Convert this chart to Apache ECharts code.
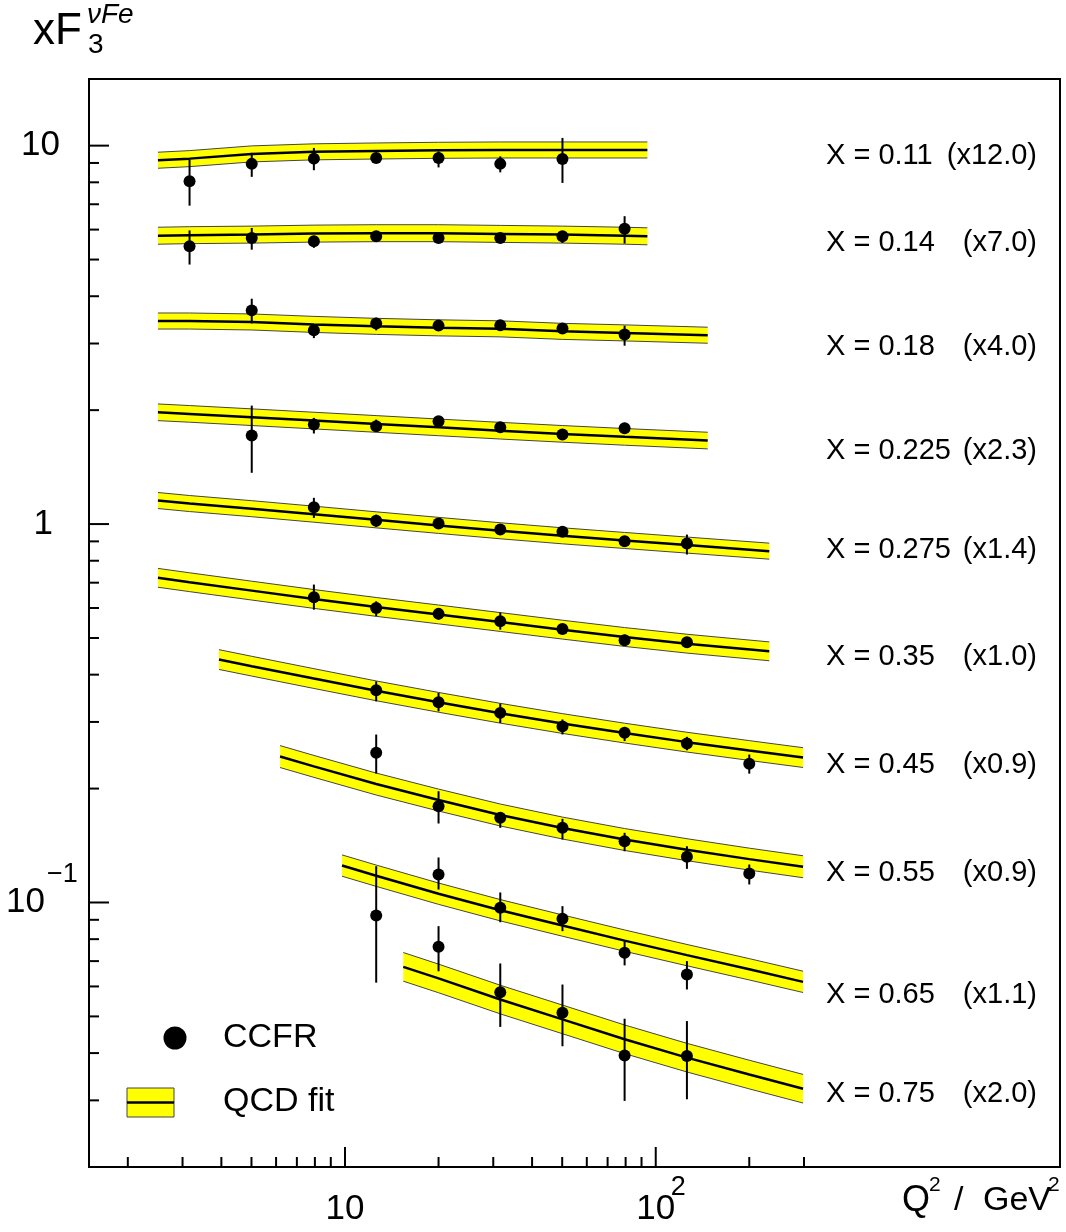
<!DOCTYPE html>
<html>
<head>
<meta charset="utf-8">
<script src="https://cdn.jsdelivr.net/npm/echarts@6/dist/echarts.min.js"></script>
<style>
html,body{margin:0;padding:0;background:#fff;}
#chart{width:1066px;height:1232px;}
</style>
</head>
<body>
<div id="chart"></div>
<script>
// ---------------- DATA (plotted, already multiplied by the bin scale factor) ----------------
const binX      = ['0.11', '0.14', '0.18', '0.225', '0.275', '0.35', '0.45', '0.55', '0.65', '0.75'];
const binScale  = ['12.0', '7.0', '4.0', '2.3', '1.4', '1.0', '0.9', '0.9', '1.1', '2.0'];

// CCFR points: Q2, xF3, lower / upper end of error bar
const q2_011 = [3.16, 5.01, 7.94, 12.6, 20.0, 31.6, 50.1];
const f3_011 = [8.05, 8.95, 9.24, 9.28, 9.28, 8.95, 9.22];
const lo_011 = [6.94, 8.27, 8.61, 9.02, 8.76, 8.50, 7.97];
const hi_011 = [9.18, 9.57, 9.86, 9.58, 9.66, 9.37, 10.48];

const q2_014 = [3.16, 5.01, 7.94, 12.6, 20.0, 31.6, 50.1, 79.4];
const f3_014 = [5.42, 5.70, 5.59, 5.76, 5.70, 5.70, 5.76, 6.03];
const lo_014 = [4.85, 5.31, 5.37, 5.59, 5.53, 5.53, 5.53, 5.51];
const hi_014 = [5.97, 6.06, 5.78, 5.94, 5.88, 5.88, 5.94, 6.51];

const q2_018 = [5.01, 7.94, 12.6, 20.0, 31.6, 50.1, 79.4];
const f3_018 = [3.67, 3.25, 3.39, 3.345, 3.35, 3.285, 3.17];
const lo_018 = [3.39, 3.10, 3.25, 3.25, 3.25, 3.20, 2.96];
const hi_018 = [3.94, 3.365, 3.51, 3.435, 3.435, 3.39, 3.345];

const q2_0225 = [5.01, 7.94, 12.6, 20.0, 31.6, 50.1, 79.4];
const f3_0225 = [1.713, 1.832, 1.813, 1.869, 1.802, 1.724, 1.791];
const lo_0225 = [1.366, 1.735, 1.759, 1.813, 1.748, 1.672, 1.735];
const hi_0225 = [2.056, 1.908, 1.888, 1.927, 1.858, 1.777, 1.851];

const q2_0275 = [7.94, 12.6, 20.0, 31.6, 50.1, 79.4, 126];
const f3_0275 = [1.108, 1.021, 1.003, 0.967, 0.954, 0.901, 0.888];
const lo_0275 = [1.038, 0.983, 0.971, 0.938, 0.929, 0.874, 0.831];
const hi_0275 = [1.173, 1.059, 1.032, 0.997, 0.977, 0.929, 0.938];

const q2_035 = [7.94, 12.6, 20.0, 31.6, 50.1, 79.4, 126];
const f3_035 = [0.641, 0.600, 0.579, 0.5535, 0.528, 0.493, 0.487];
const lo_035 = [0.594, 0.571, 0.559, 0.526, 0.5135, 0.4775, 0.471];
const hi_035 = [0.692, 0.625, 0.600, 0.584, 0.5425, 0.510, 0.500];

const q2_045 = [12.6, 20.0, 31.6, 50.1, 79.4, 126, 200];
const f3_045 = [0.364, 0.338, 0.317, 0.292, 0.281, 0.263, 0.2325];
const lo_045 = [0.340, 0.320, 0.298, 0.278, 0.267, 0.2525, 0.219];
const hi_045 = [0.384, 0.358, 0.3355, 0.3045, 0.291, 0.274, 0.246];

const q2_055 = [12.6, 20.0, 31.6, 50.1, 79.4, 126, 200];
const f3_055 = [0.2486, 0.1797, 0.1674, 0.1575, 0.1452, 0.1320, 0.1193];
const lo_055 = [0.2192, 0.1617, 0.1575, 0.1467, 0.1366, 0.1227, 0.1116];
const hi_055 = [0.2779, 0.1968, 0.1732, 0.1664, 0.1528, 0.1408, 0.1260];

const q2_065 = [12.6, 20.0, 31.6, 50.1, 79.4, 126];
const f3_065 = [0.0924, 0.1186, 0.0968, 0.0906, 0.0737, 0.0645];
const lo_065 = [0.0614, 0.1082, 0.0887, 0.0840, 0.0682, 0.0589];
const hi_065 = [0.1247, 0.1315, 0.1063, 0.0978, 0.0790, 0.0700];

const q2_075 = [20.0, 31.6, 50.1, 79.4, 126];
const f3_075 = [0.0764, 0.0579, 0.0511, 0.0394, 0.0393];
const lo_075 = [0.0658, 0.0469, 0.0417, 0.0299, 0.0302];
const hi_075 = [0.0866, 0.0690, 0.0607, 0.0493, 0.0486];

// QCD fit: central curve sampled in Q2
const fitQ2_011 = [2.5, 3.16, 5.01, 7.94, 12.6, 20, 31.6, 50.1, 94];
const fit_011   = [9.15, 9.24, 9.51, 9.63, 9.68, 9.72, 9.74, 9.74, 9.74];
const fitQ2_014 = [2.5, 3.16, 5.01, 7.94, 12.6, 20, 31.6, 50.1, 79.4, 94];
const fit_014   = [5.78, 5.80, 5.82, 5.855, 5.87, 5.87, 5.845, 5.82, 5.78, 5.76];
const fitQ2_018 = [2.5, 3.16, 5.01, 7.94, 12.6, 20, 31.6, 50.1, 79.4, 147];
const fit_018   = [3.44, 3.44, 3.42, 3.37, 3.33, 3.30, 3.28, 3.23, 3.20, 3.155];
const fitQ2_0225 = [2.5, 3.16, 5.01, 7.94, 12.6, 20, 31.6, 50.1, 79.4, 147];
const fit_0225   = [1.974, 1.955, 1.916, 1.877, 1.839, 1.801, 1.765, 1.731, 1.700, 1.662];
const fitQ2_0275 = [2.5, 3.16, 5.01, 7.94, 12.6, 20, 31.6, 50.1, 79.4, 126, 232];
const fit_0275   = [1.154, 1.133, 1.098, 1.062, 1.026, 0.992, 0.960, 0.931, 0.905, 0.880, 0.848];
const fitQ2_035 = [2.5, 3.16, 5.01, 7.94, 12.6, 20, 31.6, 50.1, 79.4, 126, 232];
const fit_035   = [0.721, 0.702, 0.667, 0.634, 0.604, 0.577, 0.551, 0.526, 0.503, 0.483, 0.461];
const fitQ2_045 = [3.93, 5.01, 7.94, 12.6, 20, 31.6, 50.1, 79.4, 126, 200, 298];
const fit_045   = [0.4385, 0.4212, 0.3906, 0.3625, 0.3380, 0.3163, 0.2971, 0.2803, 0.2653, 0.2521, 0.2415];
const fitQ2_055 = [6.18, 7.94, 12.6, 20, 31.6, 50.1, 79.4, 126, 200, 298];
const fit_055   = [0.2430, 0.2289, 0.2056, 0.1865, 0.1703, 0.1573, 0.1467, 0.1379, 0.1302, 0.1243];
const fitQ2_065 = [9.78, 12.6, 20, 31.6, 50.1, 79.4, 126, 200, 298];
const fit_065   = [0.1252, 0.1177, 0.1055, 0.0954, 0.0869, 0.0793, 0.0726, 0.0666, 0.0617];
const fitQ2_075 = [15.4, 20, 31.6, 50.1, 79.4, 126, 200, 298];
const fit_075   = [0.0676, 0.0630, 0.0554, 0.0491, 0.0435, 0.0389, 0.0351, 0.0322];

// relative half-width of the QCD fit error band, per bin
const fitBandRel = [0.050, 0.053, 0.050, 0.052, 0.050, 0.059, 0.062, 0.069, 0.067, 0.091];

// axis tick values and labels
const xMajorTicks = [10, 100];
const xMinorTicks = [2, 3, 4, 5, 6, 7, 8, 9, 20, 30, 40, 50, 60, 70, 80, 90, 200, 300];
const yMajorTicks = [0.1, 1, 10];
const yMinorTicks = [0.03, 0.04, 0.05, 0.06, 0.07, 0.08, 0.09, 0.2, 0.3, 0.4, 0.5, 0.6, 0.7, 0.8, 0.9, 2, 3, 4, 5, 6, 7, 8, 9];
const xTickLabels = {10: ['10', ''], 100: ['10', '2']};
const yTickLabels = {10: ['10', ''], 1: ['1', ''], 0.1: ['10', '\u22121']};

// ---------------- BUILD ----------------
const bins = [
  {q: q2_011, v: f3_011, lo: lo_011, hi: hi_011, fq: fitQ2_011, fv: fit_011},
  {q: q2_014, v: f3_014, lo: lo_014, hi: hi_014, fq: fitQ2_014, fv: fit_014},
  {q: q2_018, v: f3_018, lo: lo_018, hi: hi_018, fq: fitQ2_018, fv: fit_018},
  {q: q2_0225, v: f3_0225, lo: lo_0225, hi: hi_0225, fq: fitQ2_0225, fv: fit_0225},
  {q: q2_0275, v: f3_0275, lo: lo_0275, hi: hi_0275, fq: fitQ2_0275, fv: fit_0275},
  {q: q2_035, v: f3_035, lo: lo_035, hi: hi_035, fq: fitQ2_035, fv: fit_035},
  {q: q2_045, v: f3_045, lo: lo_045, hi: hi_045, fq: fitQ2_045, fv: fit_045},
  {q: q2_055, v: f3_055, lo: lo_055, hi: hi_055, fq: fitQ2_055, fv: fit_055},
  {q: q2_065, v: f3_065, lo: lo_065, hi: hi_065, fq: fitQ2_065, fv: fit_065},
  {q: q2_075, v: f3_075, lo: lo_075, hi: hi_075, fq: fitQ2_075, fv: fit_075}
];

const FONT = "'Liberation Sans', Arial, Helvetica, sans-serif";
const chart = echarts.init(document.getElementById('chart'), null, {renderer: 'canvas'});

const series = [];

// fit bands
series.push({
  type: 'custom', name: 'band', z: 1, silent: true,
  data: bins.map((b, i) => [b.fq[0], b.fv[0], i]),
  encode: {x: 0, y: 1},
  renderItem: function (params, api) {
    const i = api.value(2);
    const b = bins[i];
    const r = 1 + fitBandRel[i];
    const up = b.fq.map((q, k) => api.coord([q, b.fv[k] * r]));
    const dn = b.fq.map((q, k) => api.coord([q, b.fv[k] / r]));
    return {
      type: 'group',
      children: [
        {type: 'polygon', shape: {points: up.concat(dn.slice().reverse())}, style: {fill: '#ffff00', stroke: null}},
        {type: 'polyline', shape: {points: up}, style: {stroke: '#444', lineWidth: 1, fill: null}},
        {type: 'polyline', shape: {points: dn}, style: {stroke: '#444', lineWidth: 1, fill: null}}
      ]
    };
  }
});

// fit central lines
bins.forEach((b, i) => {
  series.push({
    type: 'line', name: 'fit' + binX[i], z: 3, silent: true,
    symbol: 'none', showSymbol: false,
    data: b.fq.map((q, k) => [q, b.fv[k]]),
    lineStyle: {color: '#000', width: 2.5}
  });
});

// error bars and points
const errData = [];
const ptData = [];
bins.forEach(b => {
  b.q.forEach((q, k) => {
    errData.push([q, b.lo[k], b.hi[k]]);
    ptData.push([q, b.v[k]]);
  });
});
series.push({
  type: 'custom', name: 'err', z: 4, silent: true,
  data: errData,
  encode: {x: 0, y: [1, 2]},
  renderItem: function (params, api) {
    const a = api.coord([api.value(0), api.value(1)]);
    const c = api.coord([api.value(0), api.value(2)]);
    return {type: 'line', shape: {x1: a[0], y1: a[1], x2: c[0], y2: c[1]}, style: {stroke: '#000', lineWidth: 2}};
  }
});
series.push({
  type: 'scatter', name: 'CCFR', z: 5, silent: true,
  symbol: 'circle', symbolSize: 12,
  data: ptData,
  itemStyle: {color: '#000', opacity: 1}
});

// axis ticks (inward)
const xTickData = xMajorTicks.map(v => [v, 1, 20]).concat(xMinorTicks.map(v => [v, 1, 10]));
const yTickData = yMajorTicks.map(v => [2, v, 20]).concat(yMinorTicks.map(v => [2, v, 10]));
series.push({
  type: 'custom', name: 'xticks', z: 6, silent: true,
  data: xTickData, encode: {x: 0, y: 1},
  renderItem: function (params, api) {
    const cs = params.coordSys;
    const x = api.coord([api.value(0), 1])[0];
    const yb = cs.y + cs.height;
    return {type: 'line', shape: {x1: x, y1: yb, x2: x, y2: yb - api.value(2)}, style: {stroke: '#000', lineWidth: 2}};
  }
});
series.push({
  type: 'custom', name: 'yticks', z: 6, silent: true,
  data: yTickData, encode: {x: 0, y: 1},
  renderItem: function (params, api) {
    const cs = params.coordSys;
    const y = api.coord([2, api.value(1)])[1];
    return {type: 'line', shape: {x1: cs.x, y1: y, x2: cs.x + api.value(2), y2: y}, style: {stroke: '#000', lineWidth: 2}};
  }
});

function txt(x, y, text, size, align, extra) {
  return Object.assign({type: 'text', x: x, y: y, silent: true, z: 10,
    style: {text: text, font: size + 'px ' + FONT, fill: '#000',
            align: align, verticalAlign: 'middle', textAlign: align, textVerticalAlign: 'middle'}}, extra || {});
}

// static annotation texts
const labelY = [156, 243, 347, 451, 550, 657, 765, 873, 995, 1094];
const graphic = [];
binX.forEach((x, i) => {
  graphic.push(txt(826, labelY[i], 'X = ' + x, 29, 'left'));
  graphic.push(txt(1037, labelY[i], '(x' + binScale[i] + ')', 29, 'right'));
});
// title xF3^{nu Fe}
graphic.push(txt(33, 32, 'xF', 44, 'left'));
graphic.push({type: 'text', x: 87, y: 15, silent: true, z: 10,
  style: {text: '\u03bdFe', font: 'italic 28px ' + FONT, fill: '#000', align: 'left', verticalAlign: 'middle', textAlign: 'left', textVerticalAlign: 'middle'}});
graphic.push(txt(88, 45, '3', 28, 'left'));
// x axis title: Q^2 / GeV^2
graphic.push(txt(902, 1201, 'Q', 36, 'left'));
graphic.push(txt(929, 1185, '2', 21, 'left'));
graphic.push(txt(954, 1201, '/', 34, 'left'));
graphic.push(txt(983, 1201, 'GeV', 34, 'left'));
graphic.push(txt(1048, 1185, '2', 21, 'left'));
// legend
graphic.push({type: 'circle', shape: {cx: 175, cy: 1038, r: 11.5}, style: {fill: '#000'}, silent: true});
graphic.push(txt(223, 1038, 'CCFR', 34, 'left'));
graphic.push({type: 'rect', shape: {x: 127, y: 1088, width: 47, height: 29}, style: {fill: '#ffff00', stroke: '#444', lineWidth: 1}, silent: true});
graphic.push({type: 'line', shape: {x1: 127, y1: 1102.5, x2: 174, y2: 1102.5}, style: {stroke: '#000', lineWidth: 2.5}, silent: true});
graphic.push(txt(223, 1102, 'QCD fit', 34, 'left'));

const option = {
  animation: false,
  backgroundColor: '#fff',
  grid: {left: 89, top: 79, width: 971, height: 1088, show: true, borderColor: '#000', borderWidth: 2, backgroundColor: 'transparent'},
  xAxis: {
    type: 'log', logBase: 10, min: 1.5, max: 2000,
    axisLine: {show: false}, axisTick: {show: false}, splitLine: {show: false}, minorTick: {show: false},
    axisLabel: {
      margin: 22, color: '#000', fontFamily: FONT, fontSize: 35, lineHeight: 40,
      showMinLabel: false, showMaxLabel: false,
      formatter: function (v) {
        const k = Math.round(v);
        return (Math.abs(v - k) < 1e-6 && xTickLabels[k]) ? xTickLabels[k][0] : '';
      }
    }
  },
  yAxis: {
    type: 'log', logBase: 10, min: 0.02, max: 15,
    axisLine: {show: false}, axisTick: {show: false}, splitLine: {show: false}, minorTick: {show: false},
    axisLabel: {show: false}
  },
  series: series,
  graphic: graphic
};
chart.setOption(option);

// tick-label superscripts and y labels placed through the axis scales
const extra = [];
Object.keys(xTickLabels).forEach(k => {
  const sup = xTickLabels[k][1];
  if (!sup) return;
  const px = chart.convertToPixel({xAxisIndex: 0}, Number(k));
  extra.push(txt(px + 15, 1188, sup, 27, 'left'));
});
const yRight = {10: 60, 1: 53, 0.1: 45};
Object.keys(yTickLabels).forEach(k => {
  const py = chart.convertToPixel({yAxisIndex: 0}, Number(k));
  const base = yTickLabels[k][0], sup = yTickLabels[k][1];
  extra.push(txt(yRight[k], py, base, 35, 'right'));
  if (sup) extra.push(txt(yRight[k] + 2, py - 28, sup, 27, 'left'));
});
chart.setOption({graphic: graphic.concat(extra)});
</script>
</body>
</html>
